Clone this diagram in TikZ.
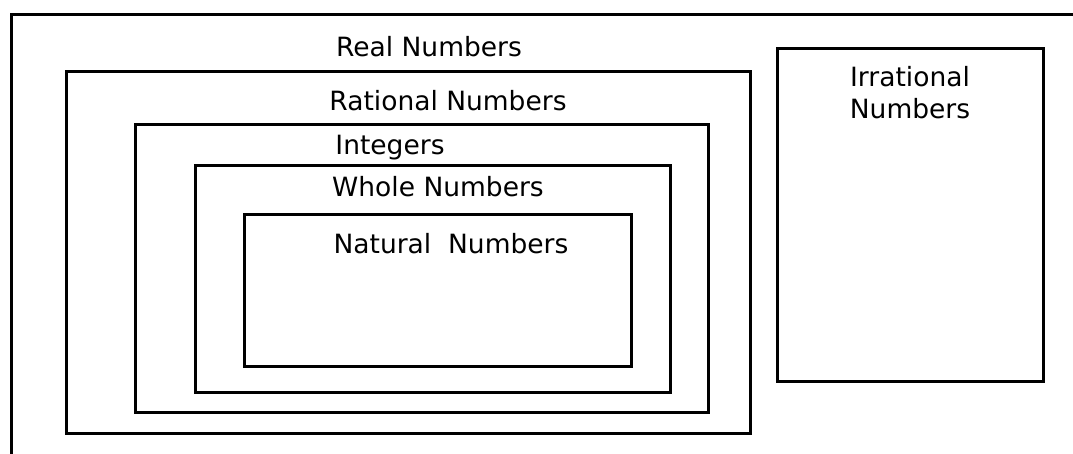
\documentclass[tikz,border=0pt]{standalone}
\usepackage{fontspec}
\setmainfont{DejaVu Sans}
\begin{document}
\begin{tikzpicture}[x=1pt,y=-1pt,
  box/.style={draw=black,line width=3pt},
  lbl/.style={font=\fontsize{26.5}{31}\selectfont,inner sep=0pt,anchor=center}]
\useasboundingbox (0,0) rectangle (1073,454);
\draw[line width=3pt] (11,454) coordinate (bl) -- (11,15) coordinate (tl) -- (1073,15) coordinate (tr);
\draw[box] (66,72) rectangle (750,433);
\draw[box] (135,125) rectangle (708,412);
\draw[box] (195,166) rectangle (670,392);
\draw[box] (244,215) rectangle (631,366);
\draw[box] (777,49) rectangle (1043,381);
\node[lbl] (real) at (429,47) {Real Numbers};
\node[lbl] (rat) at (448,101) {Rational Numbers};
\node[lbl] (int) at (390,148) {Integers};
\node[lbl] (whole) at (438,187) {Whole Numbers};
\node[lbl] (nat) at (451,244) {Natural\ \ Numbers};
\node[lbl,align=center,font=\fontsize{26.5}{32}\selectfont] (irr) at (910,93) {Irrational\\Numbers};
\end{tikzpicture}
\end{document}
